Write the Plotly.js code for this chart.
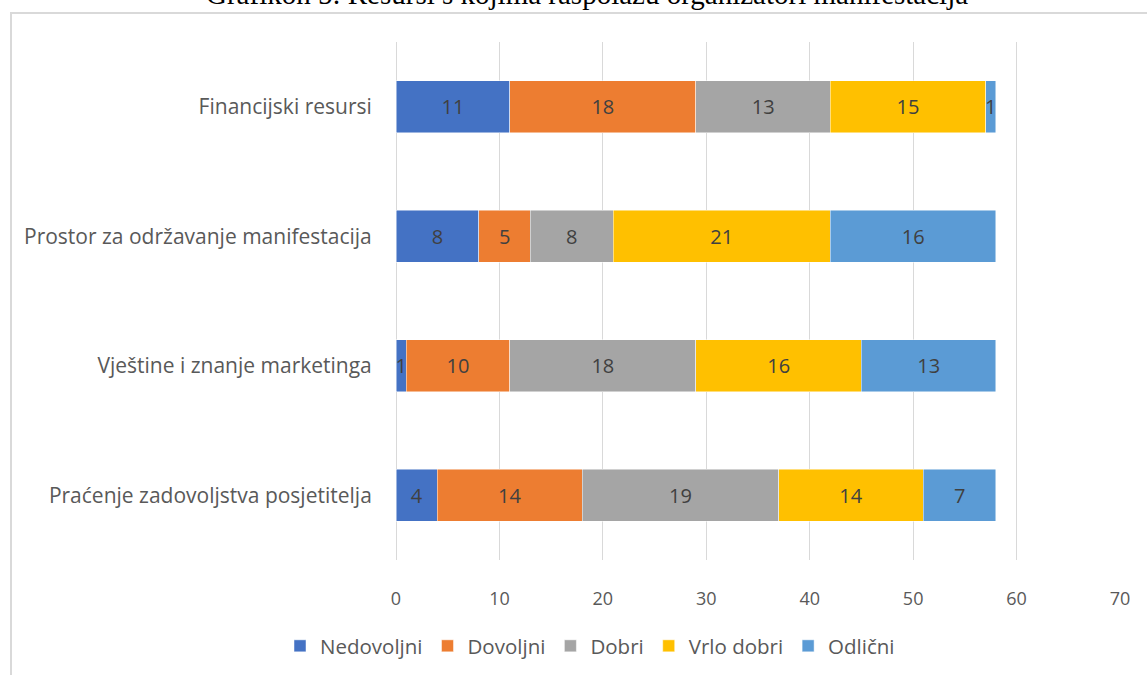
<!DOCTYPE html>
<html>
<head>
<meta charset="utf-8">
<script src="https://cdn.plot.ly/plotly-3.0.1.min.js"></script>
<style>
  html, body { margin: 0; padding: 0; background: #fff; overflow: hidden; }
  #frame { position: absolute; left: 10px; top: 12px; width: 1200px; height: 700px;
           border-top: 2px solid #d9d9d9; border-left: 2px solid #d9d9d9; box-sizing: border-box; }
  #chart { position: absolute; left: 0; top: 0; width: 1147px; height: 675px; }
</style>
</head>
<body>
<div id="frame"></div>
<div id="chart"></div>
<script>
const categories = [
  "Financijski resursi",
  "Prostor za održavanje manifestacija",
  "Vještine i znanje marketinga",
  "Praćenje zadovoljstva posjetitelja"
];
const seriesNames = ["Nedovoljni", "Dovoljni", "Dobri", "Vrlo dobri", "Odlični"];
const nedovoljni = [11, 8, 1, 4];
const dovoljni   = [18, 5, 10, 14];
const dobri      = [13, 8, 18, 19];
const vrloDobri  = [15, 21, 16, 14];
const odlicni    = [1, 16, 13, 7];
const seriesValues = [nedovoljni, dovoljni, dobri, vrloDobri, odlicni];
const colors = ["#4472C4", "#ED7D31", "#A5A5A5", "#FFC000", "#5B9BD5"];
const xTicks = [0, 10, 20, 30, 40, 50, 60, 70];
const titleText = "Grafikon 5: Resursi s kojima raspolažu organizatori manifestacija";

const font = "'Open Sans', Lato, sans-serif";

const traces = seriesNames.map((name, i) => ({
  type: "bar",
  orientation: "h",
  name: name,
  y: categories,
  x: seriesValues[i],
  text: seriesValues[i].map(String),
  textposition: "inside",
  insidetextanchor: "middle",
  textangle: 0,
  constraintext: "none",
  cliponaxis: false,
  textfont: { family: font, size: 20, color: "#404040" },
  marker: { color: colors[i], line: { color: "rgba(255,255,255,0.6)", width: 0.8 } },
  hoverinfo: "x+y+name"
}));

const layout = {
  width: 1147,
  height: 675,
  barmode: "stack",
  bargap: 0.6,
  paper_bgcolor: "rgba(0,0,0,0)",
  plot_bgcolor: "rgba(0,0,0,0)",
  margin: { l: 396, r: 27, t: 42, b: 115 },
  uniformtext: { mode: "show", minsize: 20 },
  annotations: [{
    text: titleText,
    xref: "paper",
    yref: "paper",
    x: (587 - 396) / 724,
    xanchor: "center",
    y: (560 - 12) / 518,
    yanchor: "bottom",
    showarrow: false,
    font: { family: "'Liberation Serif', 'Times New Roman', serif", size: 29, color: "#000" }
  }],
  xaxis: {
    range: [0, 70],
    tickvals: xTicks,
    ticktext: xTicks.map(String),
    showgrid: true,
    gridcolor: "#d9d9d9",
    gridwidth: 1,
    zeroline: true,
    zerolinecolor: "#d9d9d9",
    zerolinewidth: 1,
    showline: false,
    ticks: "outside",
    ticklen: 22,
    tickcolor: "rgba(0,0,0,0)",
    tickfont: { family: font, size: 18, color: "#595959" },
    fixedrange: true
  },
  yaxis: {
    type: "category",
    autorange: "reversed",
    showgrid: false,
    zeroline: false,
    showline: false,
    ticks: "outside",
    ticklen: 19,
    tickcolor: "rgba(0,0,0,0)",
    tickfont: { family: font, size: 21, color: "#595959" },
    fixedrange: true
  },
  legend: {
    orientation: "h",
    xref: "container",
    yref: "container",
    x: 590 / 1147,
    xanchor: "center",
    y: 1 - 646 / 675,
    yanchor: "middle",
    font: { family: font, size: 20.5, color: "#595959" },
    traceorder: "normal",
    itemwidth: 30
  },
  showlegend: true
};

Plotly.newPlot("chart", traces, layout, { displayModeBar: false, staticPlot: true });
</script>
</body>
</html>
